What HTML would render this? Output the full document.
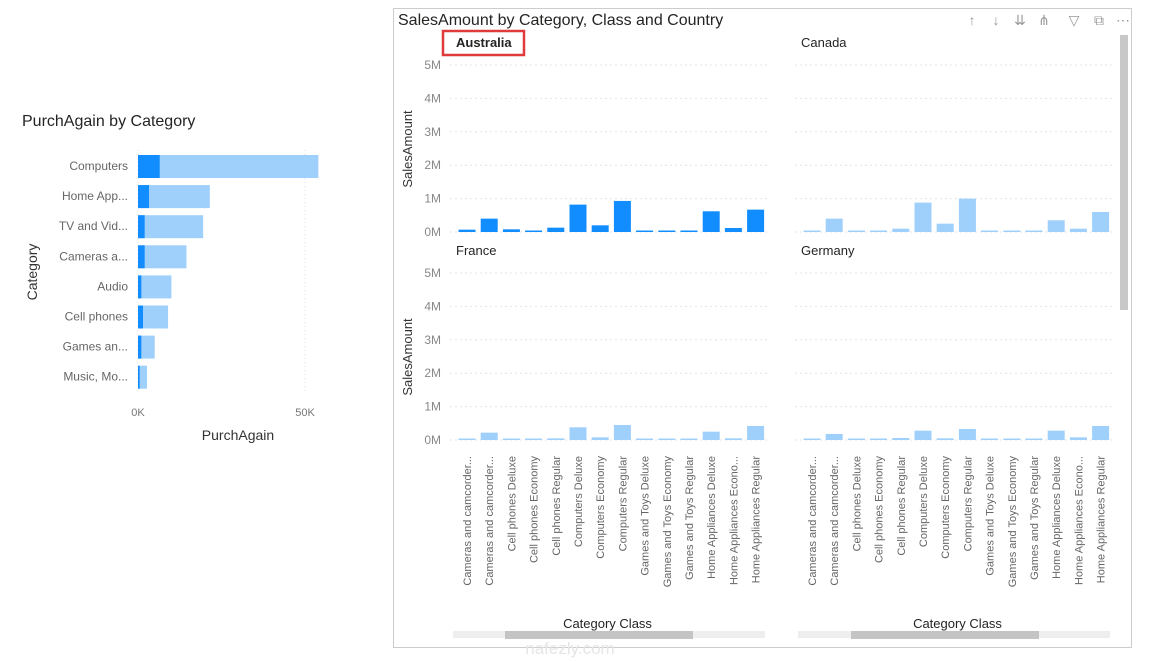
<!DOCTYPE html>
<html><head><meta charset="utf-8">
<style>
body{margin:0;background:#fff;width:1169px;height:661px;overflow:hidden;font-family:"Liberation Sans",sans-serif;}
svg{position:absolute;left:0;top:0;}
</style></head>
<body>
<svg id="c" width="1169" height="661"></svg>
<script>
const leftCats=["Computers","Home App...","TV and Vid...","Cameras a...","Audio","Cell phones","Games an...","Music, Mo..."];
const leftTotal=[54,21.5,19.5,14.5,10,9,5,2.7];
const leftSel=[6.5,3.3,2,2,1,1.5,1,0.5];
const xTicksLeft=["0K","50K"];
const classCats=["Cameras and camcorder...","Cameras and camcorder...","Cell phones Deluxe","Cell phones Economy","Cell phones Regular","Computers Deluxe","Computers Economy","Computers Regular","Games and Toys Deluxe","Games and Toys Economy","Games and Toys Regular","Home Appliances Deluxe","Home Appliances Econo...","Home Appliances Regular"];
const countries=["Australia","Canada","France","Germany"];
const australia=[0.07,0.4,0.08,0.03,0.13,0.82,0.2,0.93,0.03,0.03,0.03,0.62,0.12,0.67];
const canada=[0.03,0.4,0.03,0.03,0.1,0.88,0.25,1.0,0.02,0.02,0.02,0.35,0.1,0.6];
const france=[0.02,0.22,0.02,0.02,0.05,0.38,0.08,0.45,0.01,0.01,0.01,0.25,0.05,0.42];
const germany=[0.02,0.18,0.02,0.02,0.06,0.28,0.05,0.33,0.01,0.01,0.01,0.28,0.08,0.42];
const yTicks=[0,1,2,3,4,5];

const NS="http://www.w3.org/2000/svg";
const svg=document.getElementById('c');
function mk(tag,attrs,parent,text){const e=document.createElementNS(NS,tag);for(const k in attrs)e.setAttribute(k,attrs[k]);if(text!==undefined)e.textContent=text;(parent||svg).appendChild(e);return e;}

let t=mk('text',{x:22,y:126,'font-size':16,fill:'#252423'},svg,'PurchAgain by Category');


const lx=v=>138+v*(305-138)/50;
[0,50].forEach((v,i)=>{
  let g=mk('line',{x1:lx(v),x2:lx(v),y1:150,y2:392,stroke:'#ddd','stroke-dasharray':'1,3'});
  
  
  let tt=mk('text',{x:lx(v),y:416,'font-size':11,fill:'#777','text-anchor':'middle'},svg,xTicksLeft[i]);
  
  
});
leftCats.forEach((c,i)=>{
  const cy=166+i*30.1;
  let l=mk('text',{x:128,y:cy+4,'font-size':12,fill:'#666','text-anchor':'end'},svg,c);
  
  
  let b=mk('rect',{x:lx(0),y:cy-11,width:lx(leftTotal[i])-lx(0),height:23,fill:'#9fd0fb'});
  
  
  let d=mk('rect',{x:lx(0),y:cy-11,width:lx(leftSel[i])-lx(0),height:23,fill:'#118dff'});
  
  
});
t=mk('text',{x:238,y:440,'font-size':14,fill:'#333','text-anchor':'middle'},svg,'PurchAgain');


t=mk('text',{x:0,y:0,'font-size':14,fill:'#333','text-anchor':'middle',transform:'translate(37,272) rotate(-90)'},svg,'Category');



let fr=mk('rect',{x:393.5,y:8.5,width:738,height:639,fill:'none',stroke:'#ccc'});


t=mk('text',{x:398,y:25,'font-size':16,fill:'#252423'},svg,'SalesAmount by Category, Class and Country');


const icons=["↑","↓","⇊","⋔","▽","⧉","⋯"];
const iconX=[972,996,1020,1044,1074,1099,1123];
icons.forEach((ic,i)=>{let e=mk('text',{x:iconX[i],y:25,'font-size':14,fill:'#999','text-anchor':'middle'},svg,ic);
  
  });
let vs=mk('rect',{x:1120,y:35,width:8,height:275,fill:'#c8c8c8'});



const series=[australia,canada,france,germany];
const panels=[{x0:455,x1:770,y0:232},{x0:800,x1:1115,y0:232},{x0:455,x1:770,y0:440},{x0:800,x1:1115,y0:440}];
const ppm=33.4;
panels.forEach((p,pi)=>{
  const ly=p.y0-190;
  let n=mk('text',{x:p.x0+1,y:ly+5,'font-size':13,fill:'#252423','font-weight':pi==0?'bold':'normal'},svg,countries[pi]);
  
  
  if(pi==0){let r=mk('rect',{x:443,y:31,width:81,height:24,fill:'none',stroke:'#e03a3a','stroke-width':2.5});
    
    }
  if(pi%2==0){
    yTicks.forEach(v=>{let y=p.y0-v*ppm;
      let tt=mk('text',{x:441,y:y+4,'font-size':12,fill:'#888','text-anchor':'end'},svg,v+'M');
      
      });
    let at=mk('text',{x:0,y:0,'font-size':13,fill:'#333','text-anchor':'middle',transform:`translate(412,${p.y0-83}) rotate(-90)`},svg,'SalesAmount');
    
    
  }
  yTicks.forEach(v=>{let y=p.y0-v*ppm;
    let g=mk('line',{x1:p.x0-5,x2:p.x1,y1:y,y2:y,stroke:'#e4e4e4','stroke-dasharray':'2,3'});
    
    });
  const step=22.2, first=p.x0+12;
  series[pi].forEach((v,i)=>{
    const cx=first+i*step, h=Math.max(v*ppm,1.5);
    let b=mk('rect',{x:cx-8.5,y:p.y0-h,width:17,height:h,fill:pi==0?'#118dff':'#9fd0fb'});
    
    
    if(pi>=2){
      let l=mk('text',{x:0,y:0,'font-size':11,fill:'#666','text-anchor':'end',transform:`translate(${cx+4},456) rotate(-90)`},svg,classCats[i]);
      
      
    }
  });
  if(pi>=2){
    let xt=mk('text',{x:(p.x0+p.x1)/2+(pi==2?-5:0),y:628,'font-size':13,fill:'#252423','text-anchor':'middle'},svg,'Category Class');
    
    
    let tr=mk('rect',{x:p.x0-2,y:631,width:p.x1-p.x0-3,height:7,fill:'#eee'});
    
    
    let th=mk('rect',{x:p.x0+(pi==2?50:51),y:631,width:188,height:8,fill:'#c4c4c4'});
    
    
  }
});
let wm=mk('text',{x:570,y:654,'font-size':17,fill:'#e6e6e6','text-anchor':'middle'},svg,'nafezly.com');


</script>
</body></html>
